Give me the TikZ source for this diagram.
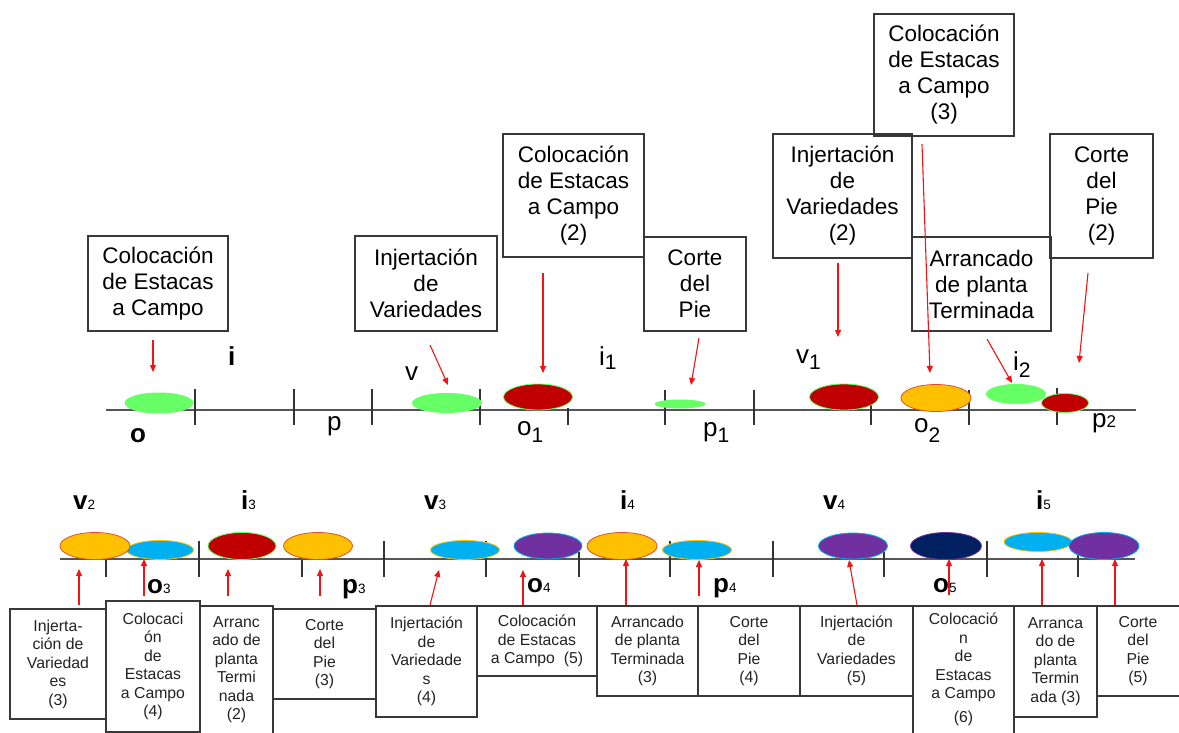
\documentclass[tikz,border=0pt]{standalone}
\usepackage{fontspec}
\setmainfont{Liberation Sans}
\usetikzlibrary{shapes.geometric,arrows.meta}

\definecolor{boxline}{HTML}{383838}
\definecolor{axisgray}{HTML}{555555}
\definecolor{tickgray}{HTML}{333333}
\definecolor{arrowred}{HTML}{F21414}
\definecolor{lowtext}{HTML}{222222}
\definecolor{leafgreen}{HTML}{66FF66}
\definecolor{darkred}{HTML}{C00000}
\definecolor{amber}{HTML}{FFC000}
\definecolor{amberedge}{HTML}{E0502A}
\definecolor{skyblue}{HTML}{00B0F0}
\definecolor{violet}{HTML}{7030A0}
\definecolor{navy}{HTML}{002060}

% subscripts of the stage labels
\newcommand\upidx[2]{\raisebox{-#1}{\fontsize{21}{21}\selectfont #2}}
\newcommand\lowidx[1]{{\mdseries\fontsize{13.5}{13.5}\selectfont #1}}

\begin{document}
\begin{tikzpicture}[x=1pt,y=-1pt,
  topbox/.style={rectangle, draw=boxline, line width=1.6pt, inner sep=0pt, outer sep=0pt,
    align=center, font=\fontsize{22.5}{26}\selectfont, text=black},
  lowbox/.style={rectangle, inner sep=0pt, outer sep=0pt, align=center,
    font=\fontsize{15.8}{18.5}\selectfont, text=lowtext},
  lowframe/.style={draw=boxline, line width=1.6pt},
  blob/.style={ellipse, inner sep=0pt, outer sep=0pt, line width=0.8pt},
  pointer/.style={draw=arrowred, line width=1.1pt, -{Triangle[length=7pt,width=6pt]}},
  axis/.style={draw=axisgray, line width=1.8pt},
  tick/.style={draw=tickgray, line width=1.6pt},
  toplab/.style={anchor=base west, inner sep=0pt, font=\fontsize{26}{26}\selectfont},
  lowlab/.style={anchor=base west, inner sep=0pt, font=\bfseries\fontsize{26}{26}\selectfont}
]
\useasboundingbox (0,0) rectangle (1179,733);

% ---------------- upper time line ----------------
\draw[axis] (106,410) -- (1136,410);
\foreach \x/\t in {195/389,294/389,372/389,480/389,568/408,665/390,754/390,871/405,969/390,1057/388}
  \draw[tick] (\x,\t) -- (\x,425);

\node[blob, fill=leafgreen, minimum width=69, minimum height=21] (eo)  at (159,403) {};
\node[blob, fill=leafgreen, minimum width=70, minimum height=20] (ev)  at (447,403) {};
\node[blob, fill=darkred, draw=leafgreen, minimum width=69, minimum height=26] (eo1) at (538,397) {};
\node[blob, fill=leafgreen, minimum width=51, minimum height=9]  (ep1) at (680,404) {};
\node[blob, fill=darkred, draw=leafgreen, minimum width=69, minimum height=26] (ev1) at (844,397) {};
\node[blob, fill=amber, draw=amberedge, minimum width=70, minimum height=27] (eo2) at (936,398) {};
\node[blob, fill=leafgreen, minimum width=60, minimum height=20] (ei2) at (1016,394) {};
\node[blob, fill=darkred, draw=leafgreen, minimum width=47, minimum height=19] (ep2) at (1065,403) {};

% stage letters, upper line
\node[toplab] (lo)  at (130,442) {\textbf{o}};
\node[toplab] (li)  at (228,365) {\textbf{i}};
\node[toplab] (lp)  at (327,430) {p};
\node[toplab] (lv)  at (405,380) {v};
\node[toplab] (lo1) at (517,435) {o\upidx{7pt}{1}};
\node[toplab] (li1) at (599,365) {i\upidx{4pt}{1}};
\node[toplab] (lp1) at (703,436) {p\upidx{6pt}{1}};
\node[toplab] (lv1) at (796,363) {v\upidx{6pt}{1}};
\node[toplab] (lo2) at (914,432) {o\upidx{10pt}{2}};
\node[toplab] (li2) at (1013,370) {i\upidx{7pt}{2}};
\node[toplab] (lp2) at (1092,427) {p{\fontsize{17}{17}\selectfont 2}};

% task boxes, upper line
\node[topbox, minimum width=140, minimum height=95]  (t1) at (158,283.5) {Colocación\\de Estacas\\a Campo};
\node[topbox, minimum width=142, minimum height=95]  (t2) at (426,283.5) {Injertación\\de\\Variedades};
\node[topbox, minimum width=141, minimum height=123] (t3) at (573.5,195.5) {Colocación\\de Estacas\\a Campo\\(2)};
\node[topbox, minimum width=102, minimum height=94]  (t4) at (695,284) {Corte\\del\\Pie};
\node[topbox, minimum width=139, minimum height=124] (t5) at (842.5,196) {Injertación\\de\\Variedades\\(2)};
\node[topbox, minimum width=140, minimum height=122] (t6) at (944,75) {Colocación\\de Estacas\\a Campo\\(3)};
\node[topbox, minimum width=139, minimum height=94]  (t7) at (981.5,284) {Arrancado\\de planta\\Terminada};
\node[topbox, minimum width=103, minimum height=124] (t8) at (1101.5,196) {Corte\\del\\Pie\\(2)};

\draw[pointer] ([shift={(-5,9)}]t1.south)     -- ([shift={(-6,-20.5)}]eo.north);
\draw[pointer] ([shift={(4,14)}]t2.south)     -- ([shift={(1,-8)}]ev.north);
\draw[pointer] ([shift={(-30.5,16)}]t3.south) -- ([shift={(5,-11)}]eo1.north);
\draw[pointer] ([shift={(4,7)}]t4.south)      -- ([shift={(11,-14.5)}]ep1.north);
\draw[pointer] ([shift={(-4.5,5)}]t5.south)   -- ([shift={(-6,-47)}]ev1.north);
\draw[pointer] ([shift={(-22,8)}]t6.south)    -- ([shift={(-6,-11.5)}]eo2.north);
\draw[pointer] ([shift={(5.5,8)}]t7.south)    -- ([shift={(-4,-1)}]ei2.north);
\draw[pointer] ([shift={(-13.5,15)}]t8.south) -- ([shift={(14,-30.5)}]ep2.north);

% ---------------- lower time line ----------------
\draw[axis] (60,559) -- (1135,559);
\foreach \x/\t in {106/560,199/541,302/560,384/541,486/541,579/552,670/541,773/541,884/552,987/541,1078/552}
  \draw[tick] (\x,\t) -- (\x,577);

\node[blob, fill=skyblue, draw=amber, minimum width=67, minimum height=19] (eo3) at (160,550) {};
\node[blob, fill=amber, draw=amberedge, minimum width=70, minimum height=27] (ev2) at (95,546) {};
\node[blob, fill=darkred, draw=leafgreen, minimum width=68, minimum height=27] (ei3) at (242,546) {};
\node[blob, fill=amber, draw=amberedge, minimum width=69, minimum height=27] (ep3) at (318,546) {};
\node[blob, fill=skyblue, draw=amber, minimum width=69, minimum height=19] (ev3) at (465,550) {};
\node[blob, fill=violet, draw=skyblue, minimum width=68, minimum height=26] (eo4) at (548,546) {};
\node[blob, fill=amber, draw=amberedge, minimum width=70, minimum height=27] (ei4) at (622,546) {};
\node[blob, fill=skyblue, draw=amber, minimum width=69, minimum height=19] (ep4) at (697,550) {};
\node[blob, fill=violet, draw=skyblue, minimum width=69, minimum height=26] (ev4) at (853,546) {};
\node[blob, fill=navy, draw=violet, minimum width=71, minimum height=27] (eo5) at (946,546) {};
\node[blob, fill=skyblue, draw=amber, minimum width=68, minimum height=19] (ei5) at (1038,542) {};
\node[blob, fill=violet, draw=skyblue, minimum width=70, minimum height=27] (ep5) at (1104,546) {};

% stage letters, lower line
\node[lowlab] (lv2) at (73,509)  {v\lowidx{2}};
\node[lowlab] (lo3) at (147,593) {o\lowidx{3}};
\node[lowlab] (li3) at (241,509) {i\lowidx{3}};
\node[lowlab] (lp3) at (342,593) {p\lowidx{3}};
\node[lowlab] (lv3) at (424,509) {v\lowidx{3}};
\node[lowlab] (lo4) at (527,592) {o\lowidx{4}};
\node[lowlab] (li4) at (620,509) {i\lowidx{4}};
\node[lowlab] (lp4) at (713,592) {p\lowidx{4}};
\node[lowlab] (lv4) at (823,509) {v\lowidx{4}};
\node[lowlab] (lo5) at (933,592) {o\lowidx{5}};
\node[lowlab] (li5) at (1036,509) {i\lowidx{5}};

% task boxes, lower line
\node[lowbox, lowframe, minimum width=96, minimum height=110]  (b1) at (58,664) {Injerta-\\ción de\\Variedad\\es\\(3)};
\node[lowbox, lowframe, minimum width=94, minimum height=131]  (b2) at (153,666.5) {Colocaci\\ón\\de\\Estacas\\a Campo\\(4)};
\node[lowbox, minimum width=73, minimum height=127]            (b3) at (236.5,669.5) {Arranc\\ado de\\planta\\Termi\\nada\\(2)};
\draw[lowframe] (b3.south west) -- (b3.north west) -- (b3.north east) -- (b3.south east);
\node[lowbox, lowframe, minimum width=103, minimum height=90]  (b4) at (324.5,654) {Corte\\del\\Pie\\(3)};
\node[lowbox, lowframe, minimum width=101, minimum height=111] (b5) at (426.5,661.5) {Injertación\\de\\Variedade\\s\\(4)};
\node[lowbox, lowframe, minimum width=120, minimum height=70]  (b6) at (537,641) {Colocación\\de Estacas\\a Campo\ \ (5)};
\node[lowbox, lowframe, minimum width=101, minimum height=90]  (b7) at (647.5,651) {Arrancado\\de planta\\Terminada\\(3)};
\node[lowbox, lowframe, minimum width=102, minimum height=90]  (b8) at (749,651) {Corte\\del\\Pie\\(4)};
\node[lowbox, lowframe, minimum width=113, minimum height=90]  (b9) at (856.5,651) {Injertación\\de\\Variedades\\(5)};
\node[lowbox, minimum width=101, minimum height=127]           (b10) at (963.5,669.5) {Colocació\\n\\de\\Estacas\\a Campo\\[5pt](6)};
\draw[lowframe] (b10.south west) -- (b10.north west) -- (b10.north east) -- (b10.south east);
\node[lowbox, lowframe, minimum width=83, minimum height=111]  (b11) at (1055.5,661.5) {Arranca\\do de\\planta\\Termin\\ada (3)};
\node[lowbox, minimum width=82, minimum height=90]             (b12) at (1138,651) {Corte\\del\\Pie\\(5)};
\draw[lowframe] (b12.north east) -- (b12.north west) -- (b12.south west) -- (b12.south east);

\draw[pointer] ([shift={(21,-4)}]b1.north)     -- ([shift={(-16,9.5)}]ev2.south);
\draw[pointer, line width=2pt] ([shift={(-9,-5)}]b2.north) -- ([shift={(-16,-0.5)}]eo3.south);
\draw[pointer] ([shift={(-8.5,-10)}]b3.north)  -- ([shift={(-14,9.5)}]ei3.south);
\draw[pointer] ([shift={(-4.5,-13)}]b4.north)  -- ([shift={(2,9.5)}]ep3.south);
\draw[pointer] ([shift={(3.5,-1)}]b5.north)    -- ([shift={(-26,10.5)}]ev3.south);
\draw[pointer] ([shift={(-14,-1)}]b6.north)    -- ([shift={(-25,11)}]eo4.south);
\draw[pointer] ([shift={(-21.5,-1)}]b7.north)  -- ([shift={(4,-0.5)}]ei4.south);
\draw[pointer] ([shift={(-50,-10)}]b8.north)   -- ([shift={(2,0.5)}]ep4.south);
\draw[pointer] ([shift={(0.5,-1)}]b9.north)    -- ([shift={(-4,1)}]ev4.south);
\draw[pointer] ([shift={(-14.5,-11)}]b10.north) -- ([shift={(3,-0.5)}]eo5.south);
\draw[pointer] ([shift={(-13.5,-1)}]b11.north) -- ([shift={(4,7.5)}]ei5.south);
\draw[pointer] ([shift={(-23,-1)}]b12.north)   -- ([shift={(11,-0.5)}]ep5.south);
\end{tikzpicture}
\end{document}
